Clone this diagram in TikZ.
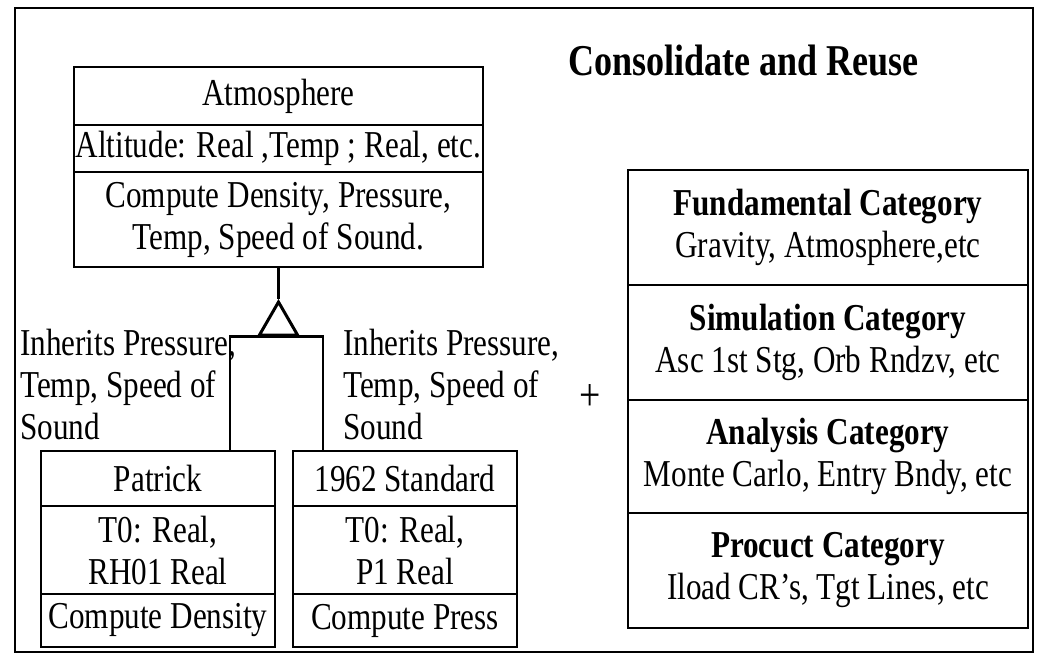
\documentclass[tikz,border=0pt]{standalone}
\usepackage{fontspec}
\setmainfont{Liberation Serif}[FakeStretch=0.82]
\usetikzlibrary{shapes.geometric}
\newcommand{\umlfont}{\fontsize{38}{42}\selectfont}
\newcommand{\headfont}{\fontsize{44}{50}\selectfont\bfseries}

\begin{document}
\begin{tikzpicture}[x=1pt,y=-1pt,
  umlbox/.style={draw,line width=2.5pt,inner sep=0pt,font=\umlfont,align=center},
  note/.style={font=\umlfont,align=left,inner sep=0pt,anchor=north west}]
  \useasboundingbox (0,0) rectangle (1039,656);
  \draw[line width=2.5pt] (15,8) rectangle (1033,652);
  \node[font=\headfont,anchor=west,inner sep=0pt] (title) at (568,61) {Consolidate and Reuse};
  % base class
  \node[umlbox,minimum width=409,minimum height=58] (atmName) at (278.5,96) {Atmosphere};
  \node[umlbox,minimum width=409,minimum height=47] (atmAttr) at (278.5,148.5)
       {Altitude: Real ,Temp ; Real, etc.};
  \node[umlbox,minimum width=409,minimum height=95] (atmMeth) at (278.5,219.5)
       {Compute Density, Pressure,\\Temp, Speed of Sound.};
  % inheritance
  \node[draw,line width=3pt,regular polygon,regular polygon sides=3,
        minimum size=44,inner sep=0pt] (inh) at (278.5,324){};
  \coordinate (patLink) at (230,451);
  \coordinate (stdLink) at (323,451);
  \draw[line width=2.5pt](atmMeth.south)--(inh.north);
  \draw[line width=2.5pt](inh.south)-|(patLink);
  \draw[line width=2.5pt](inh.south)-|(stdLink);
  \node[note] (inhLeft) at (20,329) {Inherits Pressure,\\Temp, Speed of\\Sound};
  \node[note] (inhRight) at (343,329) {Inherits Pressure,\\Temp, Speed of\\Sound};
  % sub classes
  \node[umlbox,minimum width=234,minimum height=55] (patName) at (158,478.5) {Patrick};
  \node[umlbox,minimum width=234,minimum height=88] (patAttr) at (158,550) {T0: Real,\\RH01 Real};
  \node[umlbox,minimum width=234,minimum height=53] (patMeth) at (158,620.5) {Compute Density};
  \node[umlbox,minimum width=224,minimum height=55] (stdName) at (405,478.5) {1962 Standard};
  \node[umlbox,minimum width=224,minimum height=88] (stdAttr) at (405,550) {T0: Real,\\P1 Real};
  \node[umlbox,minimum width=224,minimum height=53] (stdMeth) at (405,620.5) {Compute Press};
  \node[font=\fontsize{46}{50}\selectfont,inner sep=0pt] (plus) at (590,398) {+};
  % categories
  \node[umlbox,minimum width=400,minimum height=115] (catFund) at (828,227.5)
       {\textbf{Fundamental Category}\\Gravity, Atmosphere,etc};
  \node[umlbox,minimum width=400,minimum height=115] (catSim) at (828,342.5)
       {\textbf{Simulation Category}\\Asc 1st Stg, Orb Rndzv, etc};
  \node[umlbox,minimum width=400,minimum height=113] (catAna) at (828,456.5)
       {\textbf{Analysis Category}\\Monte Carlo, Entry Bndy, etc};
  \node[umlbox,minimum width=400,minimum height=115] (catProd) at (828,570.5)
       {\textbf{Procuct Category}\\Iload CR's, Tgt Lines, etc};
\end{tikzpicture}
\end{document}
